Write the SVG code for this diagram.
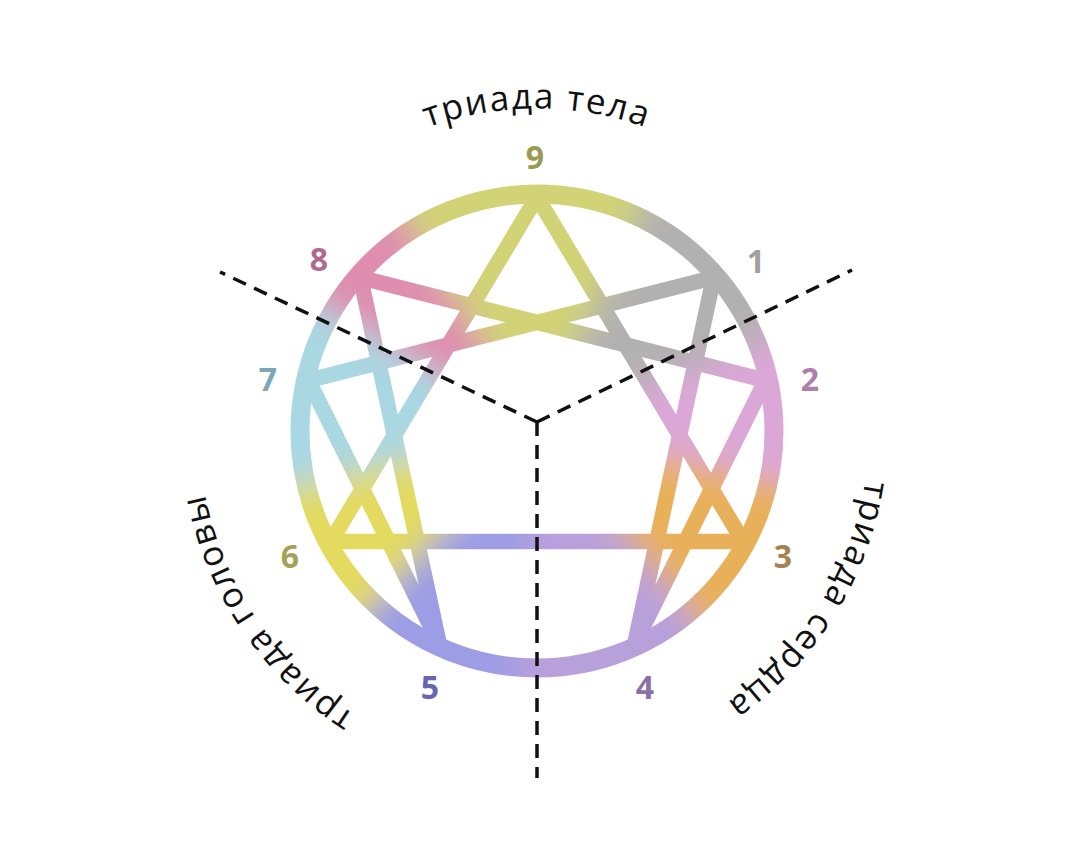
<svg xmlns="http://www.w3.org/2000/svg" width="1080" height="843" viewBox="0 0 1080 843">
  <style>
    .num { font-family: "Open Sans", "Noto Sans", "DejaVu Sans", sans-serif; font-size: 32px; font-weight: 700; text-anchor: middle; }
    .lbl { font-family: "Open Sans", "Noto Sans", "DejaVu Sans", sans-serif; font-size: 35px; fill: #111; letter-spacing: 1.8px; }
    .ring { fill: none; stroke: url(#field); stroke-width: 19; }
    .edge { fill: none; stroke: url(#field); stroke-width: 15.5; stroke-linejoin: miter; stroke-miterlimit: 20; }
    .dash { fill: none; stroke: #111; stroke-width: 3.5; stroke-dasharray: 14 9; }
  </style>
  <defs>
    <filter id="soft" filterUnits="userSpaceOnUse" x="-200" y="-200" width="1480" height="1300">
      <feGaussianBlur stdDeviation="16"/>
    </filter>
    <pattern id="field" patternUnits="userSpaceOnUse" x="0" y="0" width="1080" height="843">
      <rect x="0" y="0" width="1080" height="843" fill="#c8c0c8"/>
      <g filter="url(#soft)">
        <polygon points="537,431 219,-79 791,-114" fill="#d1d376"/>
        <polygon points="537,431 791,-114 1093,205" fill="#b2b1b1"/>
        <polygon points="537,431 1093,205 1124,555" fill="#dba7d7"/>
        <polygon points="537,431 1124,555 923,890" fill="#e9b05a"/>
        <polygon points="537,431 923,890 485,1028" fill="#b8a0db"/>
        <polygon points="537,431 485,1028 128,869" fill="#9d9de5"/>
        <polygon points="537,431 128,869 -48,565" fill="#e3da5e"/>
        <polygon points="537,431 -48,565 17,130" fill="#a9d7e2"/>
        <polygon points="537,431 17,130 219,-79" fill="#df8eb0"/>
      </g>
    </pattern>
    <clipPath id="disc">
      <circle cx="537" cy="431" r="245"/>
    </clipPath>
    <path id="arcTop" d="M259,268 A322,322 0 0 1 815,268"/>
    <path id="arcRight" d="M830,274 A332,332 0 0 1 525,762"/>
    <path id="arcLeft" d="M561,767 A338,338 0 0 1 233,282"/>
  </defs>

  <rect x="0" y="0" width="1080" height="843" fill="#ffffff"/>

  <g id="connectors" clip-path="url(#disc)">
    <path id="triangle" class="edge" d="M537,197 L743.2,541.6 L330.8,541.6 Z"/>
    <path id="hexad" class="edge" d="M713.6,277.5 L634.8,643.6 L765.5,380.4 L360.4,277.5 L439.2,643.6 L308.5,380.4 Z"/>
  </g>

  <g id="circle">
    <circle class="ring" cx="537" cy="431" r="237"/>
  </g>

  <g id="dividers">
    <path class="dash" d="M537,422 L220,272"/>
    <path class="dash" d="M537,422 L852,270"/>
    <path class="dash" d="M537,422 L537,778"/>
  </g>

  <g id="node-9"><text class="num" x="535" y="169" fill="#9a9b52">9</text></g>
  <g id="node-1"><text class="num" x="756" y="273" fill="#9f9f9f">1</text></g>
  <g id="node-2"><text class="num" x="810" y="391" fill="#ad7fac">2</text></g>
  <g id="node-3"><text class="num" x="783" y="568" fill="#a5824f">3</text></g>
  <g id="node-4"><text class="num" x="645" y="699" fill="#8b6fa6">4</text></g>
  <g id="node-5"><text class="num" x="430" y="699" fill="#6767b0">5</text></g>
  <g id="node-6"><text class="num" x="290" y="568" fill="#a3a257">6</text></g>
  <g id="node-7"><text class="num" x="268" y="391" fill="#7ba7b7">7</text></g>
  <g id="node-8"><text class="num" x="319" y="271" fill="#b26a8c">8</text></g>

  <g id="labels">
    <text class="lbl"><textPath href="#arcTop" startOffset="50%" text-anchor="middle">триада тела</textPath></text>
    <text class="lbl"><textPath href="#arcRight" startOffset="50%" text-anchor="middle">триада сердца</textPath></text>
    <text class="lbl"><textPath href="#arcLeft" startOffset="50%" text-anchor="middle">триада головы</textPath></text>
  </g>
</svg>
